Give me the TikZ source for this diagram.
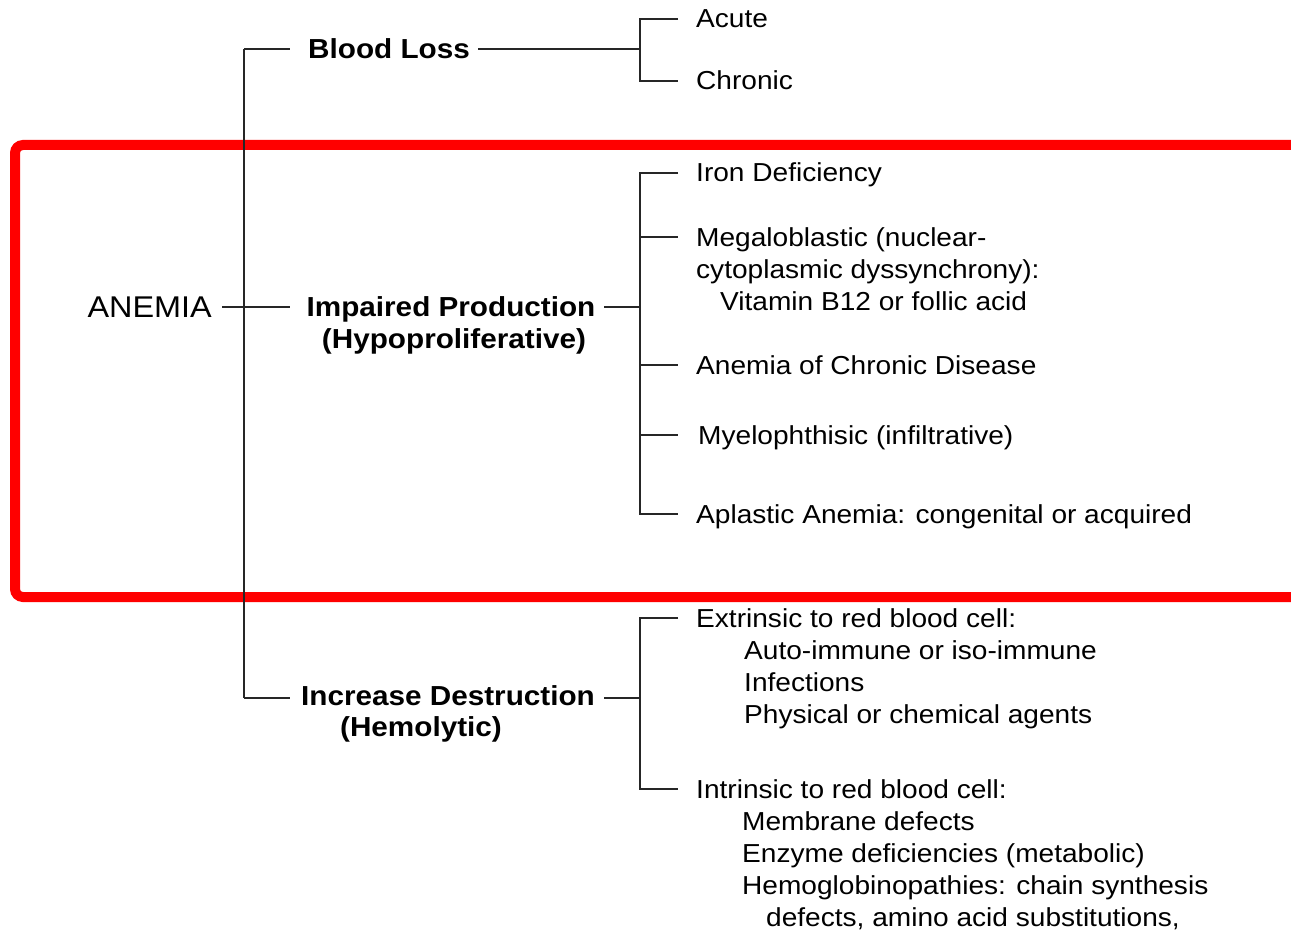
\documentclass[tikz,border=0pt]{standalone}
\usepackage{fontspec}
\setmainfont{Liberation Sans}[FakeStretch=1.08]
\begin{document}
\begin{tikzpicture}[x=1pt,y=-1pt,
  conn/.style={line width=1.9pt,black!85},
  txt/.style={anchor=west,inner sep=0pt,text height=18pt,text depth=0pt,font=\fontsize{26}{30}\selectfont},
  cat/.style={anchor=center,inner sep=0pt,text height=19.5pt,text depth=0pt,font=\fontsize{27.5}{30}\selectfont\bfseries},
  frame/.style={draw=red,line width=10pt,rounded corners=8pt}]
\useasboundingbox (0,0) rectangle (1291,931);
\fill[white] (0,0) rectangle (1291,931);
% red highlight frame
\draw[frame] (15,145) rectangle (1320,597);
% root
\node[anchor=east,inner sep=0pt,text height=21.5pt,text depth=0pt,font=\fontsize{30}{34}\selectfont] (anemia) at (212,307) {ANEMIA};
% categories
\node[cat] (bloodloss) at (389,49) {Blood Loss};
\node[cat] (impaired) at (451,307) {Impaired Production};
\node[cat] (impaired2) at (454,339) {(Hypoproliferative)};
\node[cat] (increase) at (448,696) {Increase Destruction};
\node[cat] (increase2) at (421,727) {(Hemolytic)};
% junctions
\coordinate (tTop) at (244,49);
\coordinate (tMid) at (244,307);
\coordinate (tBot) at (244,698);
\coordinate (bA) at (640,49);
\coordinate (bB) at (640,307);
\coordinate (bC) at (640,698);
% leaves: blood loss
\node[txt] (acute) at (696,19) {Acute};
\node[txt] (chronic) at (696,81) {Chronic};
% leaves: impaired production
\node[txt] (iron) at (696,173) {Iron Deficiency};
\node[txt] (mega1) at (696,237) {Megaloblastic (nuclear-};
\node[txt] (mega2) at (696,269) {cytoplasmic dyssynchrony):};
\node[txt] (mega3) at (720,301) {Vitamin B12 or follic acid};
\node[txt] (acd) at (696,365) {Anemia of Chronic Disease};
\node[txt] (myelo) at (698,435) {Myelophthisic (infiltrative)};
\node[txt] (aplastic) at (696,514) {Aplastic Anemia: congenital or acquired};
% leaves: increase destruction
\node[txt] (ext) at (696,618) {Extrinsic to red blood cell:};
\node[txt] (ext1) at (744,650) {Auto-immune or iso-immune};
\node[txt] (ext2) at (744,682) {Infections};
\node[txt] (ext3) at (744,714) {Physical or chemical agents};
\node[txt] (int) at (696,789) {Intrinsic to red blood cell:};
\node[txt] (int1) at (742,821) {Membrane defects};
\node[txt] (int2) at (742,853) {Enzyme deficiencies (metabolic)};
\node[txt] (int3) at (742,885) {Hemoglobinopathies: chain synthesis};
\node[txt] (int4) at (766,917) {defects, amino acid substitutions,};
% trunk
\draw[conn] (tTop) -- (tBot);
\draw[conn] ([xshift=10pt]anemia.east) -- (290,307);
\draw[conn] (tTop) -- (290,49);
\draw[conn] (tBot) -- (290,698);
% category to brackets
\draw[conn] (478,49) -- (bA);
\draw[conn] (604,307) -- (bB);
\draw[conn] (604,698) -- (bC);
% brackets
\draw[conn] ([xshift=-18pt]acute.west) -| (bA) |- ([xshift=-18pt]chronic.west);
\draw[conn] ([xshift=-18pt]iron.west) -| (bB) |- ([xshift=-18pt]aplastic.west);
\draw[conn] (bB |- mega1) -- ([xshift=-18pt]mega1.west);
\draw[conn] (bB |- acd) -- ([xshift=-18pt]acd.west);
\draw[conn] (bB |- myelo) -- ([xshift=-20pt]myelo.west);
\draw[conn] ([xshift=-18pt]ext.west) -| (bC) |- ([xshift=-18pt]int.west);
\end{tikzpicture}
\end{document}
